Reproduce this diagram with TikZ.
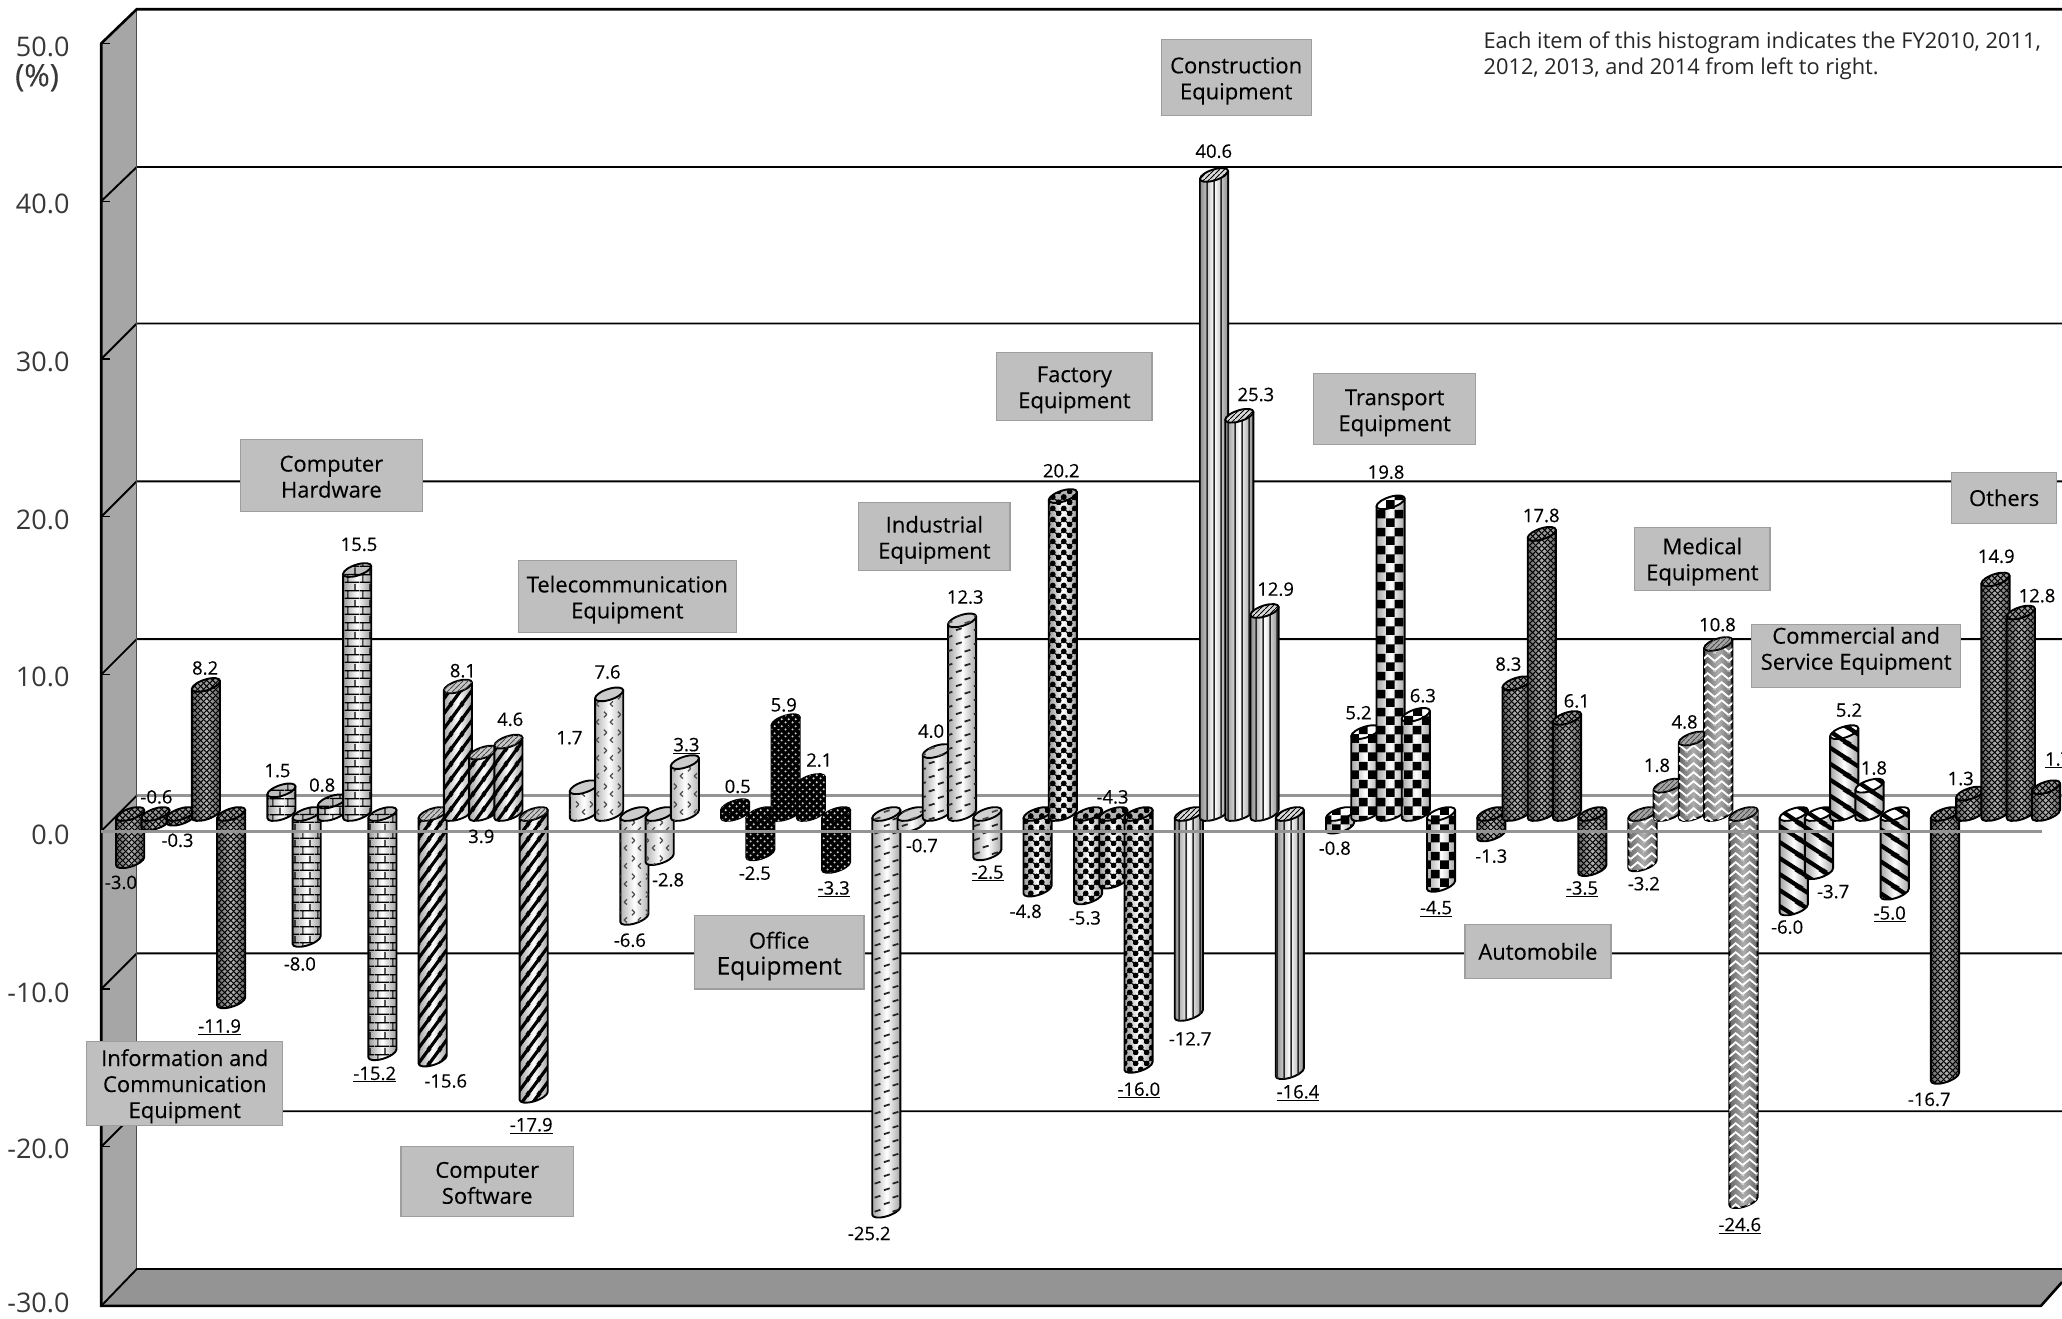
\documentclass[tikz,border=0pt]{standalone}
\usepackage{fontspec}
\setmainfont{Open Sans}
\newfontfamily\labf[FakeBold=0.22]{Open Sans}
\newfontfamily\valf[FakeBold=0.3]{Open Sans}
\usetikzlibrary{patterns}
\newcommand\pL[4]{\pgfpathmoveto{\pgfqpoint{#1pt}{#2pt}}\pgfpathlineto{\pgfqpoint{#3pt}{#4pt}}}
\newcommand\pC[3]{\pgfpathcircle{\pgfqpoint{#1pt}{#2pt}}{#3pt}}
\newcommand\pR[4]{\pgfpathrectangle{\pgfqpoint{#1pt}{#2pt}}{\pgfqpoint{#3pt}{#4pt}}}
\newcommand\mkpat[4]{\pgfdeclarepatternformonly{#1}{\pgfpointorigin}{\pgfqpoint{#2pt}{#3pt}}{\pgfqpoint{#2pt}{#3pt}}{#4}}
% steep "/" stripes
\mkpat{pSoft}{11}{15}{\pgfsetlinewidth{3.4pt}\pL{-2.2}{-3}{13.2}{18}\pL{-13.2}{-3}{2.2}{18}\pL{8.8}{-3}{24.2}{18}\pgfusepath{stroke}}
% "\" broad stripes
\mkpat{pComm}{24}{16}{\pgfsetlinewidth{4.4pt}\pL{-3}{18}{27}{-2}\pL{-3}{34}{27}{14}\pL{-3}{2}{27}{-18}\pgfusepath{stroke}}
% bricks
\mkpat{pBrick}{15}{16}{\pgfsetlinewidth{1.3pt}\pL{0}{0.7}{15}{0.7}\pL{0}{8.7}{15}{8.7}\pL{3}{0.7}{3}{8.7}\pL{10.5}{8.7}{10.5}{16}\pgfusepath{stroke}}
% dark cross hatch
\mkpat{pHatch}{6}{6}{\pgfsetlinewidth{1.15pt}\pL{-1}{-1}{7}{7}\pL{-1}{7}{7}{-1}\pgfusepath{stroke}}
% small chevron marks
\mkpat{pTele}{14}{18}{\pgfsetlinewidth{1.3pt}\pL{2}{14}{5}{11}\pL{5}{11}{2}{8}\pL{11.5}{6}{8.5}{3}\pL{8.5}{3}{11.5}{0.5}\pgfusepath{stroke}}
% white dots on black
\mkpat{pDots}{7}{7}{\pC{1.75}{1.75}{1.25}\pC{5.25}{5.25}{1.25}\pgfusepath{fill}}
% short slanted dashes
\mkpat{pDash}{18}{14}{\pgfsetlinewidth{1.9pt}\pL{2}{3}{8}{5}\pL{11}{10}{17}{12}\pgfusepath{stroke}}
% balls
\mkpat{pBall}{11}{11}{\pC{2.75}{2.75}{3.1}\pC{8.25}{8.25}{3.1}\pgfusepath{fill}\pgfsetlinewidth{0.9pt}\pL{2.75}{2.75}{8.25}{8.25}\pL{8.25}{8.25}{13.75}{2.75}\pL{-2.75}{8.25}{2.75}{2.75}\pgfusepath{stroke}}
% vertical stripes
\mkpat{pVert}{7}{7}{\pgfsetlinewidth{1.7pt}\pL{3.5}{-1}{3.5}{8}\pgfusepath{stroke}}
% fine slanted stripes for caps
\mkpat{pFine}{5}{5}{\pgfsetlinewidth{1.1pt}\pL{-1}{-1}{6}{6}\pgfusepath{stroke}}
% checker
\mkpat{pCheck}{18}{18}{\pR{0}{0}{9}{9}\pR{9}{9}{9}{9}\pgfusepath{fill}}
% herringbone
\mkpat{pHerr}{14}{9}{\pgfsetlinewidth{2pt}\pL{-1}{8}{7}{1}\pL{7}{1}{15}{8}\pL{-1}{17}{7}{10}\pL{7}{10}{15}{17}\pL{-1}{-1}{7}{-8}\pL{7}{-8}{15}{-1}\pgfusepath{stroke}}
\tikzset{
  bodysty/.style n args={4}{left color=#1,right color=#1,middle color=#2,postaction={pattern=#3,pattern color=#4}},
  capsty/.style n args={3}{fill=#1,postaction={pattern=#2,pattern color=#3}},
  bIC/.style={bodysty={black!60}{black!30}{pHatch}{black}},
  cIC/.style={capsty={black!40}{pHatch}{black}},
  bHW/.style={bodysty={black!40}{white}{pBrick}{black}},
  cHW/.style={capsty={black!25}{pBrick}{black}},
  bSW/.style={bodysty={black!35}{white}{pSoft}{black}},
  cSW/.style={capsty={black!22}{pFine}{black!70}},
  bTC/.style={bodysty={black!30}{white}{pTele}{black!70}},
  cTC/.style={fill=black!20},
  bOF/.style={bodysty={black}{black}{pDots}{white!80!black}},
  cOF/.style={capsty={black}{pDots}{white!85!black}},
  bIN/.style={bodysty={black!35}{white}{pDash}{black!85}},
  cIN/.style={capsty={black!18}{pDash}{black!70}},
  bFA/.style={bodysty={black!40}{white}{pBall}{black}},
  cFA/.style={capsty={black!30}{pBall}{black}},
  bCO/.style={bodysty={black!45}{white}{pVert}{black!85}},
  cCO/.style={capsty={black!15}{pFine}{black}},
  bTR/.style={bodysty={black!35}{white}{pCheck}{black}},
  cTR/.style={capsty={white}{pCheck}{black}},
  bME/.style={bodysty={black!60}{black!32}{pHerr}{white}},
  cME/.style={capsty={black!35}{pFine}{black!70}},
  bCM/.style={bodysty={black!35}{white}{pComm}{black}},
  cCM/.style={capsty={white}{pComm}{black}},
  gridln/.style={line width=1.9pt,black},
  zeroln/.style={line width=3pt,black!42},
  boxbg/.style={draw=black!38,fill=black!25,line width=1.2pt,inner sep=0pt},
  labt/.style={inner sep=0pt,align=center,font=\labf\fontsize{22}{26}\selectfont},
  vtxt/.style={inner sep=0pt,font=\valf\fontsize{18.5}{22}\selectfont,text=black},
  atxt/.style={inner sep=0pt,anchor=east,font=\fontsize{27}{30}\selectfont,text=black!78},
}
\newcommand\barcyl[4]{%
  \pgfmathsetmacro\bT{#2>=0 ? 619-11.97*#2 : 619}%
  \pgfmathsetmacro\bB{#2>=0 ? 619 : 619-11.97*(#2)}%
  \pgfmathsetmacro\bxL{#1-10.7}%
  \pgfmathsetmacro\bxR{#1+10.7}%
  \pgfmathsetmacro\bxl{#1-5.9}%
  \pgfmathsetmacro\bxr{#1+5.9}%
  \pgfmathsetmacro\aa{\bB+3.0}\pgfmathsetmacro\ab{\bB+5.37}\pgfmathsetmacro\ac{\bB+5.96}%
  \pgfmathsetmacro\ad{\bB+4.3}\pgfmathsetmacro\ae{\bB+2.64}\pgfmathsetmacro\af{\bB-0.63}\pgfmathsetmacro\ag{\bB-3.0}%
  \pgfmathsetmacro\ta{\bT+3.0}\pgfmathsetmacro\tb{\bT+5.37}\pgfmathsetmacro\tc{\bT+5.96}%
  \pgfmathsetmacro\td{\bT+4.3}\pgfmathsetmacro\te{\bT+2.64}\pgfmathsetmacro\tf{\bT-0.63}\pgfmathsetmacro\tg{\bT-3.0}%
  \pgfmathsetmacro\th{\bT-5.37}\pgfmathsetmacro\ti{\bT-5.96}\pgfmathsetmacro\tj{\bT-4.3}\pgfmathsetmacro\tk{\bT-2.64}\pgfmathsetmacro\tl{\bT+0.63}%
  \draw[line width=1.9pt,line join=round,#3]
    (\bxL,\ta) -- (\bxL,\aa) .. controls (\bxL,\ab) and (\bxl,\ac) .. (#1,\ad)
    .. controls (\bxr,\ae) and (\bxR,\af) .. (\bxR,\ag) -- (\bxR,\tg) -- cycle;
  \draw[line width=1.9pt,line join=round,#4]
    (\bxL,\ta) .. controls (\bxL,\tb) and (\bxl,\tc) .. (#1,\td)
    .. controls (\bxr,\te) and (\bxR,\tf) .. (\bxR,\tg)
    .. controls (\bxR,\th) and (\bxr,\ti) .. (#1,\tj)
    .. controls (\bxl,\tk) and (\bxL,\tl) .. cycle;
}
\newcommand\bargroup[8]{%
  \barcyl{#1}{#4}{#2}{#3}%
  \pgfmathsetmacro\xb{#1+19.2}\barcyl{\xb}{#5}{#2}{#3}%
  \pgfmathsetmacro\xc{#1+38.4}\barcyl{\xc}{#6}{#2}{#3}%
  \pgfmathsetmacro\xd{#1+57.6}\barcyl{\xd}{#7}{#2}{#3}%
  \pgfmathsetmacro\xe{#1+76.8}\barcyl{\xe}{#8}{#2}{#3}%
}
\newcount\vcnt
\newcommand\vlab[3]{\global\advance\vcnt by 1\node[vtxt] (val\number\vcnt) at (#1,#2) {#3};}
\newcommand\ulab[3]{\global\advance\vcnt by 1\node[vtxt] (val\number\vcnt) at (#1,#2) {\underline{#3}};}
% name, x1, y1, x2, y2, text, vertical shift of the text
\newcommand\boxlab[7]{%
  \pgfmathsetmacro\bw{(#4-#2)*1.315}\pgfmathsetmacro\bh{(#5-#3)*1.315}%
  \pgfmathsetmacro\bcx{(#2+#4)/2}\pgfmathsetmacro\bcy{(#3+#5)/2}\pgfmathsetmacro\bty{\bcy+#7}%
  \node[boxbg,minimum width=\bw pt,minimum height=\bh pt] (#1) at (\bcx,\bcy) {};
  \node[labt] (#1T) at (\bcx,\bty) {#6};}
\begin{document}
\begin{tikzpicture}[x=1.315pt,y=-1.315pt]
\useasboundingbox[fill=white] (0,0) rectangle (1568,1003);
% walls
\fill[black!35] (77,33) -- (104,7) -- (104,965) -- (77,993) -- cycle;
\fill[black!42] (77,993) -- (104,965) -- (1568,965) -- (1568,975) -- (1552,993) -- cycle;
% grid lines
\foreach \yb/\yf in {127/153,246/273,366/393,486/513,725/752,845/872}{
  \draw[gridln] (77,\yf) -- (104,\yb) -- (1568,\yb);
  \draw[line width=1.2pt] (77,\yf) -- (84,\yf);
}
\draw[zeroln] (104,605) -- (1568,605);
\draw[line width=1.9pt] (77,632) -- (104,605);
\draw[line width=1.2pt] (77,33) -- (84,33);
\draw[line width=1.2pt] (77,993) -- (84,993);
\draw[line width=1.3pt,black!70] (104,7) -- (104,965);
\draw[line width=2.6pt,line join=miter] (1568,7) -- (104,7) -- (77,33) -- (77,993) -- (1552,993) -- (1568,975);
\draw[gridln] (77,993) -- (104,965) -- (1568,965);
% axis labels
\node[atxt] (a50) at (53,36) {50.0};
\node[atxt,font=\labf\fontsize{31}{34}\selectfont] (apc) at (45,59) {(\%)};
\node[atxt] (a40) at (53,155) {40.0};
\node[atxt] (a30) at (53,275) {30.0};
\node[atxt] (a20) at (53,395) {20.0};
\node[atxt] (a10) at (53,515) {10.0};
\node[atxt] (a00) at (53,635) {0.0};
\node[atxt] (am10) at (53,755) {-10.0};
\node[atxt] (am20) at (53,874) {-20.0};
\node[atxt] (am30) at (53,991) {-30.0};
% note
\node[inner sep=0pt,anchor=north west,align=left,font=\fontsize{21.8}{26.5}\selectfont,text=black!85] (note) at (1128,24)
  {Each item of this histogram indicates the FY2010, 2011,\\2012, 2013, and 2014 from left to right.};
% category boxes
\boxlab{bCon}{883}{30}{997}{88}{Construction\\Equipment}{2.5}
\boxlab{bHar}{183}{334}{321}{389}{Computer\\Hardware}{1}
\boxlab{bTel}{394}{426}{560}{481}{Telecommunication\\Equipment}{2.5}
\boxlab{bFac}{758}{268}{876}{320}{Factory\\Equipment}{2.5}
\boxlab{bTra}{999}{284}{1122}{338}{Transport\\Equipment}{3}
\boxlab{bInd}{653}{382}{768}{434}{Industrial\\Equipment}{2.5}
\boxlab{bMed}{1243}{401}{1346}{449}{Medical\\Equipment}{2}
\boxlab{bCom}{1332}{475}{1491}{523}{Commercial and\\Service Equipment}{-4}
\boxlab{bOth}{1484}{359}{1564}{398}{Others}{0}
\boxlab{bAut}{1114}{703}{1225}{744}{Automobile}{0}
\boxlab{bOff}{528}{696}{657}{752}{Office\\{\fontsize{24.5}{28}\selectfont Equipment}}{3}
\boxlab{bInf}{66}{792}{215}{856}{Information and\\Communication\\Equipment}{2}
\boxlab{bSof}{305}{872}{436}{925}{Computer\\Software}{1}
% bars
\bargroup{99}{bIC}{cIC}{-3.0}{-0.6}{-0.3}{8.2}{-11.9}
\bargroup{214}{bHW}{cHW}{1.5}{-8.0}{0.8}{15.5}{-15.2}
\bargroup{329}{bSW}{cSW}{-15.6}{8.1}{3.9}{4.6}{-17.9}
\bargroup{444}{bTC}{cTC}{1.7}{7.6}{-6.6}{-2.8}{3.3}
\bargroup{559}{bOF}{cOF}{0.5}{-2.5}{5.9}{2.1}{-3.3}
\bargroup{674}{bIN}{cIN}{-25.2}{-0.7}{4.0}{12.3}{-2.5}
\bargroup{789}{bFA}{cFA}{-4.8}{20.2}{-5.3}{-4.3}{-16.0}
\bargroup{904}{bCO}{cCO}{-12.7}{40.6}{25.3}{12.9}{-16.4}
\bargroup{1019}{bTR}{cTR}{-0.8}{5.2}{19.8}{6.3}{-4.5}
\bargroup{1134}{bIC}{cIC}{-1.3}{8.3}{17.8}{6.1}{-3.5}
\bargroup{1249}{bME}{cME}{-3.2}{1.8}{4.8}{10.8}{-24.6}
\bargroup{1364}{bCM}{cCM}{-6.0}{-3.7}{5.2}{1.8}{-5.0}
\bargroup{1479}{bIC}{cIC}{-16.7}{1.3}{14.9}{12.8}{1.7}
% front zero line
\draw[zeroln] (77,632) -- (1553,632);
% values
\vlab{92}{671}{-3.0}\vlab{119}{606}{-0.6}\vlab{135}{639}{-0.3}\vlab{156}{508}{8.2}\ulab{167}{781}{-11.9}
\vlab{211}{586}{1.5}\vlab{228}{733}{-8.0}\vlab{245}{597}{0.8}\vlab{273}{414}{15.5}\ulab{285}{817}{-15.2}
\vlab{339}{822}{-15.6}\vlab{352}{510}{8.1}\vlab{366}{636}{3.9}\vlab{388}{547}{4.6}\ulab{404}{856}{-17.9}
\vlab{433}{561}{1.7}\vlab{462}{511}{7.6}\vlab{479}{715}{-6.6}\vlab{508}{669}{-2.8}\ulab{522}{567}{3.3}
\vlab{561}{598}{0.5}\vlab{574}{664}{-2.5}\vlab{596}{536}{5.9}\vlab{623}{578}{2.1}\ulab{634}{676}{-3.3}
\vlab{661}{938}{-25.2}\vlab{701}{643}{-0.7}\vlab{708}{556}{4.0}\vlab{734}{454}{12.3}\ulab{751}{664}{-2.5}
\vlab{780}{693}{-4.8}\vlab{807}{358}{20.2}\vlab{825}{698}{-5.3}\vlab{846}{606}{-4.3}\ulab{866}{829}{-16.0}
\vlab{905}{790}{-12.7}\vlab{923}{115}{40.6}\vlab{955}{300}{25.3}\vlab{970}{448}{12.9}\ulab{987}{831}{-16.4}
\vlab{1015}{645}{-0.8}\vlab{1033}{542}{5.2}\vlab{1054}{359}{19.8}\vlab{1082}{529}{6.3}\ulab{1092}{691}{-4.5}
\vlab{1134}{651}{-1.3}\vlab{1147}{505}{8.3}\vlab{1172}{392}{17.8}\vlab{1199}{533}{6.1}\ulab{1203}{676}{-3.5}
\vlab{1250}{672}{-3.2}\vlab{1260}{582}{1.8}\vlab{1281}{549}{4.8}\vlab{1306}{475}{10.8}\ulab{1323}{932}{-24.6}
\vlab{1359}{705}{-6.0}\vlab{1394}{678}{-3.7}\vlab{1406}{540}{5.2}\vlab{1425}{584}{1.8}\ulab{1437}{695}{-5.0}
\vlab{1467}{836}{-16.7}\vlab{1491}{592}{1.3}\vlab{1518}{423}{14.9}\vlab{1549}{453}{12.8}
\global\advance\vcnt by 1
\node[vtxt,anchor=west] (val\number\vcnt) at (1555,578) {\underline{1.7}};
\end{tikzpicture}
\end{document}
